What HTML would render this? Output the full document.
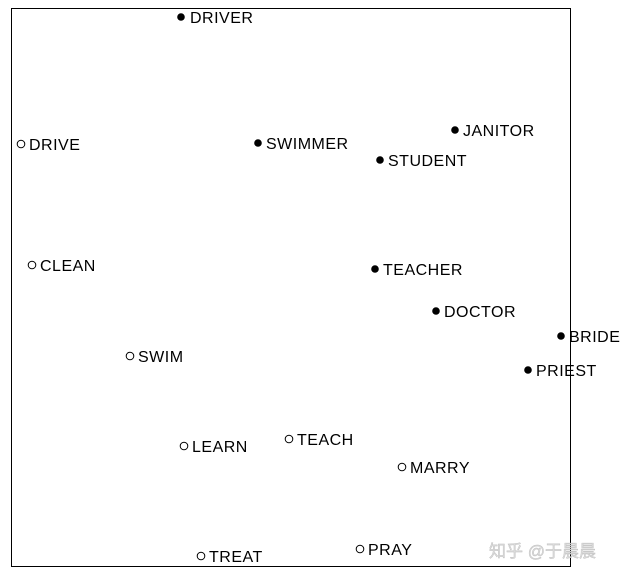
<!DOCTYPE html>
<html><head><meta charset="utf-8"><style>
html,body{margin:0;padding:0;background:#fff;width:621px;height:579px;overflow:hidden}
svg text{font-family:"Liberation Sans",Arial,sans-serif;font-size:16px;letter-spacing:0.5px;fill:#000}
</style></head><body>
<svg width="621" height="579" viewBox="0 0 621 579" xmlns="http://www.w3.org/2000/svg">
<rect x="11.5" y="8.5" width="559" height="558" fill="none" stroke="#000" stroke-width="1"/>
<g fill="#000">
<circle cx="181" cy="17" r="3.8"/><circle cx="258" cy="143" r="3.8"/><circle cx="455" cy="130" r="3.8"/>
<circle cx="380" cy="160" r="3.8"/><circle cx="375" cy="269" r="3.8"/><circle cx="436" cy="311" r="3.8"/>
<circle cx="561" cy="336" r="3.8"/><circle cx="528" cy="370" r="3.8"/>
</g>
<g fill="#fff" stroke="#000" stroke-width="1">
<circle cx="21" cy="144" r="3.8"/><circle cx="32" cy="265" r="3.8"/><circle cx="130" cy="356" r="3.8"/>
<circle cx="184" cy="446" r="3.8"/><circle cx="289" cy="439" r="3.8"/><circle cx="402" cy="467" r="3.8"/>
<circle cx="360" cy="549" r="3.8"/><circle cx="201" cy="556" r="3.8"/>
</g>
<g>
<text x="190" y="23">DRIVER</text><text x="29" y="150">DRIVE</text><text x="266" y="149">SWIMMER</text>
<text x="463" y="136">JANITOR</text><text x="388" y="166">STUDENT</text><text x="40" y="271">CLEAN</text>
<text x="383" y="275">TEACHER</text><text x="444" y="317">DOCTOR</text><text x="569" y="342">BRIDE</text>
<text x="536" y="376">PRIEST</text><text x="138" y="362">SWIM</text><text x="192" y="452">LEARN</text>
<text x="297" y="445">TEACH</text><text x="410" y="473">MARRY</text><text x="368" y="555">PRAY</text>
<text x="209" y="562">TREAT</text>
</g>
<text x="489" y="557" style="font-family:'Liberation Sans','Noto Sans CJK SC',sans-serif;font-size:17px;letter-spacing:0;fill:#ddd;stroke:#bbb;stroke-width:0.4">知乎 @于晨晨</text>
</svg>
</body></html>
